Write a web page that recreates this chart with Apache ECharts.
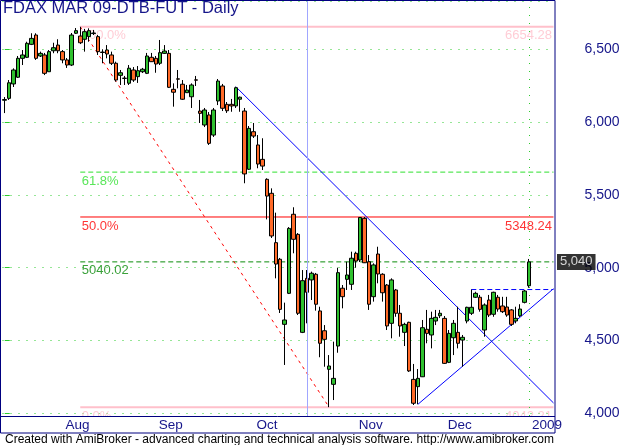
<!DOCTYPE html>
<html>
<head>
<meta charset="utf-8">
<title>FDAX MAR 09 - Daily</title>
<script src="https://cdn.jsdelivr.net/npm/echarts@6/dist/echarts.min.js"></script>
<style>
  html, body { margin: 0; padding: 0; background: #fff; }
  #chart { width: 624px; height: 445px; }
</style>
</head>
<body>
<div id="chart"></div>
<script>
// trading days, Jul 15 2008 - Jan 2 2009
const tradingDays = [
  ['2008-07', [15,16,17,18,21,22,23,24,25,28,29,30,31]],
  ['2008-08', [1,4,5,6,7,8,11,12,13,14,15,18,19,20,21,22,25,26,27,28,29]],
  ['2008-09', [1,2,3,4,5,8,9,10,11,12,15,16,17,18,19,22,23,24,25,26,29,30]],
  ['2008-10', [1,2,3,6,7,8,9,10,13,14,15,16,17,20,21,22,23,24,27,28,29,30,31]],
  ['2008-11', [3,4,5,6,7,10,11,12,13,14,17,18,19,20,21,24,25,26,27,28]],
  ['2008-12', [1,2,3,4,5,8,9,10,11,12,15,16,17,18,19,22,23,29,30]],
  ['2009-01', [2]]
]
const dates = []
tradingDays.forEach(([ym, days]) => days.forEach(d => dates.push(ym + '-' + String(d).padStart(2, '0'))))

const opens = [6150,6163,6262,6308,6438,6445,6534,6598,6454,6461, 6346,6490,6529,6484,6427,6392,6610,6591,6569,6587,
  6608,6587,6481,6495,6461,6404,6321,6302,6267,6358, 6312,6346,6335,6445,6438,6404,6472,6472,6225,6297,
  6260,6202,6174,6290,6076,5980,6049,5911,6145,6248, 6122,6122,6111,6157,6076,5676,5934,5843,5744,5607,
  5511,5172,5058,4611,4824,5367,5229,4556,4927,4916, 4955,4703,4567,4302,4199,4462,4859,4920,4886,5099,
  5053,5339,5041,4801,5094,4955,4881,4618,4847,4687, 4556,4625,4233,4183,4251,4577,4538,4634,4670,4652,
  4350,4519,4556,4503,4634,4687,4797,4797,4572,4778, 4680,4797,4737,4730,4710,4634,4670,4762,4876]
const closes = [6155,6270,6358,6438,6461,6541,6575,6438,6472,6335, 6484,6511,6490,6427,6392,6598,6628,6545,6621,6628,
  6612,6484,6478,6468,6404,6289,6339,6300,6370,6289, 6353,6363,6454,6415,6399,6477,6488,6239,6205,6295,
  6157,6220,6255,6288,6060,6083,5854,6083,6282,6095, 6078,6111,6236,6171,5644,5957,5904,5712,5698,5492,
  5218,5025,4714,4641,5270,5195,4687,4911,4831,4962, 4749,4481,4508,4325,4240,4966,4801,4950,5065,5046,
  5345,5034,4749,5019,4957,4828,4600,4916,4687,4600, 4611,4291,4069,4240,4588,4549,4652,4659,4687,4343,
  4549,4618,4481,4522,4728,4728,4824,4714,4744,4675, 4831,4716,4698,4675,4611,4652,4716,4840,5040]
const lows = [6062,6152,6241,6303,6392,6440,6529,6427,6447,6323, 6344,6473,6473,6404,6372,6385,6605,6536,6484,6552,
  6598,6461,6404,6438,6392,6278,6255,6255,6255,6276, 6269,6337,6330,6413,6339,6392,6468,6234,6106,6232,
  6152,6200,6097,6248,5994,5966,5843,5898,6117,6076, 6063,6071,6097,6071,5580,5671,5891,5683,5671,5332,
  5204,4927,4689,4332,4819,5099,4675,4551,4618,4778, 4705,4385,4320,4042.21,4091,4416,4721,4847,4847,5000,
  5039,5032,4710,4767,4893,4767,4572,4515,4663,4526, 4462,4284,4057,4062,4249,4481,4446,4606,4654,4339,
  4345,4400,4446,4320,4618,4675,4792,4698,4526,4661, 4663,4698,4689,4663,4600,4618,4661,4755,4862]
const highs = [6172,6289,6369,6454,6495,6552,6610,6610,6484,6475, 6495,6545,6569,6495,6440,6612,6646,6654.28,6640,6644,
  6633,6598,6500,6529,6484,6415,6358,6317,6392,6378, 6385,6372,6475,6475,6454,6564,6529,6495,6266,6358,
  6289,6255,6266,6317,6152,6097,6069,6097,6296,6262, 6138,6159,6243,6175,6097,5973,5994,5911,5889,5614,
  5545,5378,5067,4760,5279,5415,5238,4984,4984,4973, 4964,4732,4606,4400,4492,5000,4881,5041,5110,5110,
  5348,5348,5087,5030,5144,4962,4888,4927,4854,4744, 4622,4629,4339,4304,4641,4710,4698,4710,4710,4668,
  4572,4641,4732,4538,4732,4850,4835,4813,4755,4813, 4835,4813,4800,4800,4716,4732,4749,4847,5060]

// fibonacci retracement
const fibHigh = 6654.28
const fibLow = 4042.21
const fibStartBar = 17
const fibPcts = [1, 0.618, 0.5, 0.382, 0]
const fibLeftLabels = ['100.0%', '61.8%', '50.0%', '5040.02', '0.0%']
const fibRightLabels = ['6654.28', '', '5348.24', '', '4042.21']
const lastPriceLabel = '5,040'

// drawn studies, [bar, price]
const fibDiagonal = [[17, 6654.28], [73, 4042.21]]
const trendDown = [[52, 6243], [123.5, 4071]]
const trendUp = [[93, 4062], [123.5, 4856]]
const resistance = [[105, 4850], [123.5, 4850]]
const selectorBar = 68
const yearBar = 118

const PAD = 5
const categories = dates.concat(Array.from({length: PAD}, (_, i) => 'pad' + i))
const xEnd = categories.length - 0.5
const monthNames = ['Jan','Feb','Mar','Apr','May','Jun','Jul','Aug','Sep','Oct','Nov','Dec']
const monthStart = new Set()
dates.forEach((d, i) => { if (i > 0 && d.slice(0, 7) !== dates[i - 1].slice(0, 7)) monthStart.add(i) })
const isMonthStart = (idx) => monthStart.has(idx)

const FONT = '"Liberation Sans", Arial, sans-serif'
const NAVY = '#16168a'
const FRAME = '#000080'
const GRIDGREEN = '#2ccc2c'

const fibColors = ['#ffbfca', '#2fe02f', '#ff0000', '#0a8a0a', '#ffbfca']
const fibLineStyles = [
  {color: '#ffc0cb', width: 2, type: 'solid'},
  {color: '#2fe02f', width: 1, type: [5, 3]},
  {color: '#ff0000', width: 1, type: 'solid'},
  {color: '#0a8a0a', width: 1, type: [5, 3]},
  {color: '#ffc0cb', width: 2, type: 'solid'}
]

const candles = dates.map((d, i) => [opens[i], closes[i], lows[i], highs[i]])

const studyLine = (data, style) => ({
  type: 'line', xAxisIndex: 1, data: data, symbol: 'none', silent: true, z: 3,
  lineStyle: Object.assign({width: 1}, style)
})

const fibSeries = []
const fibLabels = []
fibPcts.forEach((p, k) => {
  const v = fibLow + p * (fibHigh - fibLow)
  fibSeries.push(studyLine([[fibStartBar, v], [xEnd, v]], fibLineStyles[k]))
  fibLabels.push({value: [fibStartBar, v],
    label: {position: 'right', distance: 1, offset: [0, 9], formatter: fibLeftLabels[k], color: fibColors[k]}})
  if (fibRightLabels[k]) {
    fibLabels.push({value: [xEnd, v],
      label: {position: 'left', distance: 1, offset: [0, 9], formatter: fibRightLabels[k], color: fibColors[k]}})
  }
})
// last price tag on the axis
fibLabels.push({value: [xEnd, closes[closes.length - 1]],
  label: {position: 'right', distance: 3, formatter: lastPriceLabel, color: '#fff',
    backgroundColor: '#000', padding: [2, 3, 1, 3]}})

const chart = echarts.init(document.getElementById('chart'), null, {renderer: 'canvas'})
chart.setOption({
  animation: false,
  grid: {left: 2.5, top: 1, width: 551, height: 415, outerBoundsMode: 'none', containLabel: false},
  xAxis: [{
    type: 'category', data: categories, boundaryGap: true, z: 10,
    axisLine: {show: false},
    axisTick: {alignWithLabel: true, length: 7, interval: isMonthStart, lineStyle: {color: FRAME}},
    axisLabel: {
      interval: isMonthStart, align: 'left', margin: 2, padding: [0, 0, 0, 3],
      fontFamily: FONT, fontSize: 13.5, color: NAVY,
      formatter: v => {
        const m = +v.slice(5, 7)
        return m === 1 ? v.slice(0, 4) : monthNames[m - 1]
      }
    },
    splitLine: {show: false}
  }, {
    type: 'value', min: -0.5, max: xEnd, show: false
  }],
  yAxis: {
    type: 'value', position: 'right', min: 3981.5, max: 6831.7, splitNumber: 6, scale: true,
    axisLine: {show: false},
    axisTick: {show: true, length: 5, lineStyle: {color: GRIDGREEN}},
    axisLabel: {
      showMinLabel: false, showMaxLabel: false, margin: 31, align: 'left',
      fontFamily: FONT, fontSize: 14, color: NAVY,
      formatter: v => v.toLocaleString('en-US')
    },
    splitLine: {lineStyle: {color: GRIDGREEN, width: 1, type: [1, 7]}}
  },
  series: [
    {
      type: 'candlestick', data: candles, barWidth: 4, z: 4,
      itemStyle: {
        color: '#2fc12f', color0: '#ff6a28',
        borderColor: '#000', borderColor0: '#000', borderColorDoji: '#000', borderWidth: 1
      }
    },
    {
      type: 'line', xAxisIndex: 1, data: [[yearBar, 5040]], symbol: 'none', silent: true, z: 2,
      markLine: {
        symbol: ['none', 'none'], silent: true, animation: false, label: {show: false},
        data: [
          {xAxis: selectorBar, lineStyle: {color: '#a0a6ff', width: 1, type: 'solid'}},
          {xAxis: yearBar, lineStyle: {color: GRIDGREEN, width: 1, type: [1, 7]}}
        ]
      }
    },
    ...fibSeries,
    studyLine(fibDiagonal, {color: '#ff0000', type: [3, 4]}),
    studyLine(trendDown, {color: '#0000ff'}),
    studyLine(trendUp, {color: '#0000ff'}),
    studyLine(resistance, {color: '#0000ff', type: [5, 3]}),
    {
      type: 'scatter', xAxisIndex: 1, data: fibLabels, symbolSize: 1, clip: false, silent: true, z: 3,
      itemStyle: {color: 'rgba(0,0,0,0)'},
      label: {show: true, fontFamily: FONT, fontSize: 13}
    }
  ],
  graphic: [
    {type: 'rect', z: 5, silent: true, shape: {x: 1, y: 416.5, width: 553.5, height: 16}, style: {fill: '#fff'}},
    {type: 'rect', z: 20, silent: true, shape: {x: 0.5, y: 0.5, width: 554.5, height: 432.5},
      style: {fill: 'none', stroke: FRAME, lineWidth: 1}},
    {type: 'line', z: 20, silent: true, shape: {x1: 0.5, y1: 416.5, x2: 555, y2: 416.5},
      style: {stroke: FRAME, lineWidth: 1}},
    {type: 'text', z: 20, silent: true, x: 3, y: 0,
      style: {text: 'FDAX MAR 09-DTB-FUT - Daily', font: '16.5px ' + FONT, fill: NAVY, verticalAlign: 'top'}},
    {type: 'text', z: 20, silent: true, x: 5, y: 433.5,
      style: {text: 'Created with AmiBroker - advanced charting and technical analysis software. http://www.amibroker.com',
        font: '12px ' + FONT, fill: '#000', verticalAlign: 'top'}}
  ]
})
</script>
</body>
</html>
